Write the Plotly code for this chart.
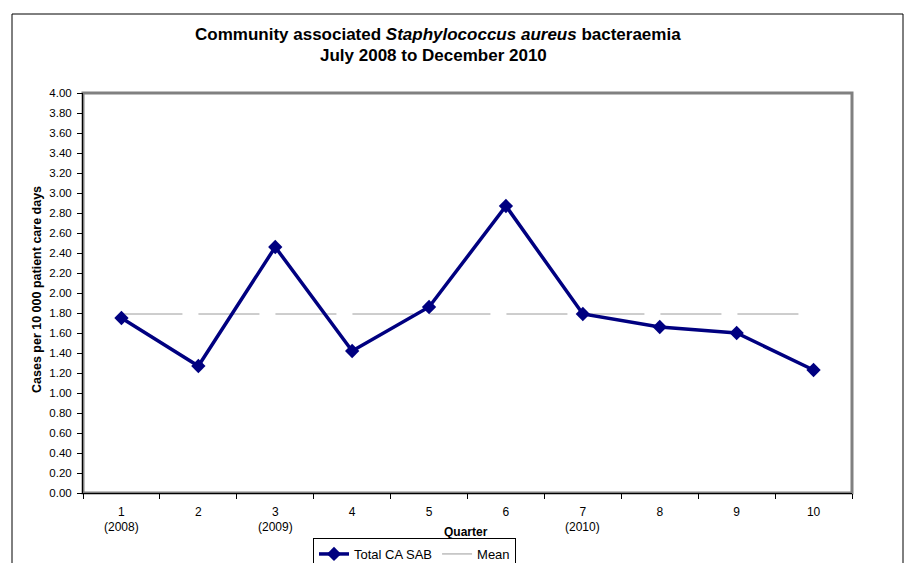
import plotly.graph_objects as go

quarters = [1, 2, 3, 4, 5, 6, 7, 8, 9, 10]
quarter_labels = ["1", "2", "3", "4", "5", "6", "7", "8", "9", "10"]
year_labels = ["(2008)", "", "(2009)", "", "", "", "(2010)", "", "", ""]
ca_sab = [1.75, 1.27, 2.46, 1.42, 1.86, 2.87, 1.79, 1.66, 1.60, 1.23]
mean_value = 1.79
mean_series = [mean_value] * len(quarters)
y_ticks = [round(0.2 * i, 2) for i in range(21)]

FONT = "Liberation Sans, Arial, sans-serif"

# the page body adds an 8px offset; work in reference-screen pixels
OFF = 8
W, H = 914 - OFF, 563 - OFF
PL, PR, PT, PB = 83, 852, 93, 493          # plot area in reference pixels
L, R, T, B = PL - OFF, W - (PR - OFF), PT - OFF, H - (PB - OFF)
PW, PH = PR - PL, PB - PT

def px_x(p):
    return (p - PL) / PW

def px_y(p):
    return (PB - p) / PH

fig = go.Figure()

fig.add_trace(go.Scatter(
    x=quarters, y=mean_series, mode="lines", name="Mean",
    line=dict(color="#9C9C9C", width=1, dash="61px,16px"),
))
fig.add_trace(go.Scatter(
    x=quarters, y=ca_sab, mode="lines+markers", name="Total CA SAB",
    line=dict(color="#000080", width=3.5),
    marker=dict(symbol="diamond", size=11, color="#000080"),
))

annotations = [
    dict(text="<b>Community associated <i>Staphylococcus aureus</i> bacteraemia</b>",
         xref="paper", yref="paper", x=px_x(438), y=px_y(34), xanchor="center", yanchor="middle",
         showarrow=False, font=dict(family=FONT, size=17, color="black")),
    dict(text="<b>July 2008 to December 2010</b>",
         xref="paper", yref="paper", x=px_x(433), y=px_y(55), xanchor="center", yanchor="middle",
         showarrow=False, font=dict(family=FONT, size=17, color="black")),
    dict(text="<b>Cases per 10 000 patient care days</b>", textangle=-90,
         xref="paper", yref="paper", x=px_x(37), y=px_y(290), xanchor="center", yanchor="middle",
         showarrow=False, font=dict(family=FONT, size=12.5, color="black")),
    dict(text="<b>Quarter</b>",
         xref="paper", yref="paper", x=px_x(466), y=px_y(532), xanchor="center", yanchor="middle",
         showarrow=False, font=dict(family=FONT, size=12, color="black")),
]
for q, lab in zip(quarters, year_labels):
    if lab:
        annotations.append(dict(text=lab, xref="x", yref="paper", x=q, y=px_y(527),
                                xanchor="center", yanchor="middle", showarrow=False,
                                font=dict(family=FONT, size=12, color="black")))

shapes = [
    dict(type="rect", xref="paper", yref="paper", x0=px_x(12), x1=px_x(903),
         y0=px_y(620), y1=px_y(14), line=dict(color="black", width=1), layer="below"),
    dict(type="rect", xref="paper", yref="paper", x0=0, x1=1, y0=0, y1=1,
         line=dict(color="#808080", width=3), layer="below"),
]

fig.update_layout(
    width=W, height=H,
    margin=dict(l=L, r=R, t=T, b=B, pad=0, autoexpand=False),
    paper_bgcolor="white", plot_bgcolor="white",
    font=dict(family=FONT, size=11.5, color="black"),
    showlegend=True,
    legend=dict(orientation="h", x=px_x(313), y=px_y(538), xanchor="left", yanchor="top",
                bordercolor="black", borderwidth=1, bgcolor="white",
                font=dict(family=FONT, size=13), traceorder="reversed",
                itemwidth=30, tracegroupgap=0),
    annotations=annotations,
    shapes=shapes,
    xaxis=dict(range=[0.5, 10.5], tickvals=quarters, ticktext=quarter_labels,
               ticks="", showgrid=False, zeroline=False,
               showline=True, linecolor="black", linewidth=1,
               ticklabelstandoff=8,
               minor=dict(tickvals=[q + 0.5 for q in [0] + quarters], ticks="outside",
                          ticklen=5, tickcolor="black", showgrid=False),
               tickfont=dict(family=FONT, size=12)),
    yaxis=dict(range=[0, 4], tickvals=y_ticks, ticktext=[f"{v:.2f}" for v in y_ticks],
               ticks="outside", ticklen=5, tickcolor="black",
               showgrid=False, zeroline=False,
               showline=True, linecolor="black", linewidth=1,
               ticklabelstandoff=3,
               tickfont=dict(family=FONT, size=11.5)),
)

fig.write_html("out.html")
